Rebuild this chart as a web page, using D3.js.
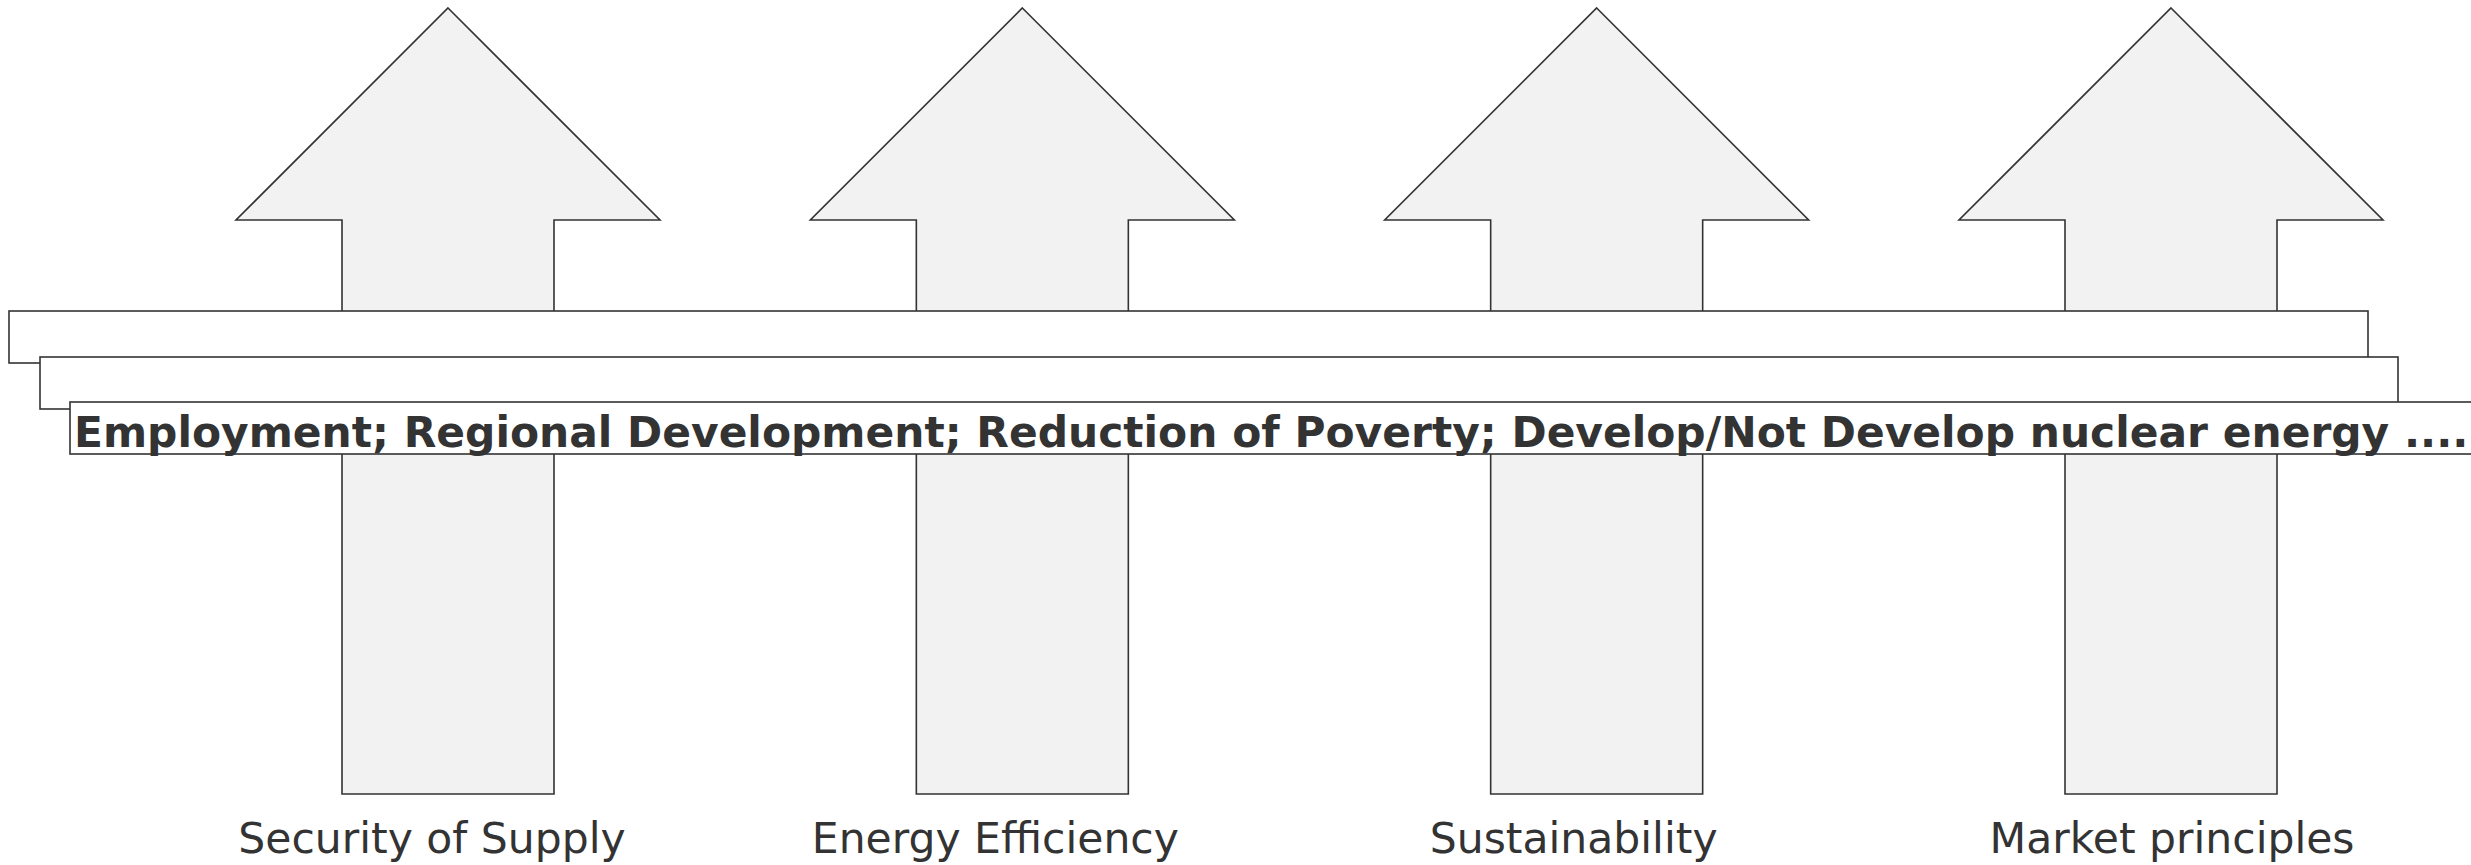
<!DOCTYPE html>
<html>
<head>
<meta charset="utf-8">
<script src="https://cdn.jsdelivr.net/npm/d3@7"></script>
<style>
  html, body { margin: 0; padding: 0; background: #ffffff; }
  svg { display: block; }
</style>
</head>
<body>
<script>
// ---- data ----
const categories = ["Security of Supply", "Energy Efficiency", "Sustainability", "Market principles"];
const layerTexts = ["", "", "Employment; Regional Development; Reduction of Poverty; Develop/Not Develop nuclear energy ...."];
const labelShift = [-16, -27, -23, 1];

// ---- layout ----
const W = 2471, H = 865;
const svg = d3.select("body").append("svg").attr("width", W).attr("height", H);

const x = d3.scalePoint().domain(categories).range([448, 2171]);
const y = d3.scaleLinear().domain([0, 1]).range([794, 8]); // arrow base -> tip
const headBase = 220;
const headHalf = 212, shaftHalf = 106;
const stroke = "#333333";

const arrowPath = (cx) => {
  const p = d3.path();
  p.moveTo(cx, y(1));
  p.lineTo(cx + headHalf, headBase);
  p.lineTo(cx + shaftHalf, headBase);
  p.lineTo(cx + shaftHalf, y(0));
  p.lineTo(cx - shaftHalf, y(0));
  p.lineTo(cx - shaftHalf, headBase);
  p.lineTo(cx - headHalf, headBase);
  p.closePath();
  return p.toString();
};

svg.append("g").selectAll("path").data(categories).join("path")
  .attr("d", d => arrowPath(x(d)))
  .attr("fill", "#f2f2f2")
  .attr("stroke", stroke)
  .attr("stroke-width", 1.6)
  .attr("stroke-linejoin", "miter");

// stacked horizontal bars
const bars = [
  {x0: 9, x1: 2368, y0: 311, y1: 363},
  {x0: 40, x1: 2398, y0: 357, y1: 409},
  {x0: 70, x1: 2520, y0: 402, y1: 454}
];
const bg = svg.append("g").selectAll("g").data(layerTexts).join("g");
bg.append("rect")
  .attr("x", (d, i) => bars[i].x0)
  .attr("y", (d, i) => bars[i].y0)
  .attr("width", (d, i) => bars[i].x1 - bars[i].x0)
  .attr("height", (d, i) => bars[i].y1 - bars[i].y0)
  .attr("fill", "#ffffff")
  .attr("stroke", stroke)
  .attr("stroke-width", 1.6);
const txt = bg.append("text")
  .attr("x", (d, i) => bars[i].x0 + 4)
  .attr("y", (d, i) => bars[i].y1 - 7)
  .attr("font-family", "Verdana, 'DejaVu Sans', sans-serif")
  .attr("font-weight", "bold")
  .attr("font-size", 42)
  .attr("fill", "#333333")
  .text(d => d);
// fit the long text so that it runs to the right edge like the reference
txt.each(function(d) {
  if (!d) return;
  const len = this.getComputedTextLength();
  const target = 2395;
  const fs = Math.max(40, Math.min(45, 42 * target / len));
  d3.select(this).attr("font-size", fs);
});

// bottom labels
svg.append("g").selectAll("text").data(categories).join("text")
  .attr("x", (d, i) => x(d) + labelShift[i])
  .attr("y", 853)
  .attr("text-anchor", "middle")
  .attr("font-family", "Verdana, 'DejaVu Sans', sans-serif")
  .attr("font-size", 42.5)
  .attr("fill", "#333333")
  .text(d => d);
</script>
</body>
</html>
